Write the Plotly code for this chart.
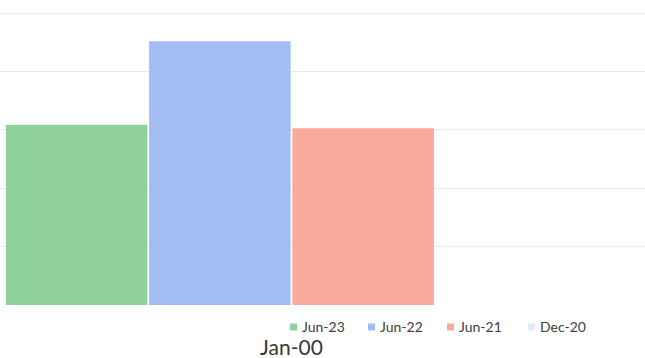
import plotly.graph_objects as go

categories = ["Jan-00"]
series_names = ["Jun-23", "Jun-22", "Jun-21", "Dec-20"]
series_values = [[3.09], [4.52], [3.03], [0.0]]
series_colors = ["#8fd09c", "#a3bcf4", "#f8aa9c", "#e9e6f6"]
grid_values = [1, 2, 3, 4, 5]

W, H = 645, 358
M_TOP, M_BOT = 12, 53
plot_h = H - M_TOP - M_BOT

fig = go.Figure()
for name, vals, col in zip(series_names, series_values, series_colors):
    fig.add_trace(go.Bar(x=categories, y=vals, name=name, showlegend=False,
                         marker=dict(color=col, line=dict(width=0))))

# compact legend row under the bars: small swatch followed by the series name
legend_left_px = [290, 368, 447, 528]
swatch = 7
legend_mid_px = 326


def px_x(p):
    return p / W


def px_y(p):
    return (H - M_BOT - p) / plot_h


for name, col, lx in zip(series_names, series_colors, legend_left_px):
    fig.add_shape(type="rect", xref="paper", yref="paper",
                  x0=px_x(lx), x1=px_x(lx + swatch),
                  y0=px_y(legend_mid_px + swatch / 2 + 1), y1=px_y(legend_mid_px - swatch / 2 + 1),
                  fillcolor=col, line=dict(width=0), layer="above")
    fig.add_annotation(xref="paper", yref="paper", x=px_x(lx + swatch + 4), y=px_y(legend_mid_px),
                       xanchor="left", yanchor="middle", showarrow=False, text=name,
                       height=13, valign="middle", borderpad=0,
                       font=dict(size=14, color="#404040"))

fig.update_layout(
    width=W, height=H,
    margin=dict(l=0, r=0, t=M_TOP, b=M_BOT),
    paper_bgcolor="white", plot_bgcolor="white",
    barmode="group", bargap=0, bargroupgap=0.012,
    font=dict(family="Lato, Open Sans, sans-serif", color="#404040"),
    showlegend=False,
    xaxis=dict(range=[-0.5087, 0.6169], showgrid=False, zeroline=False, showline=False,
               ticks="", ticklabelstandoff=28, tickfont=dict(size=21, color="#383838")),
    yaxis=dict(range=[0, 5.02], tickvals=grid_values, showticklabels=False, showgrid=True,
               gridcolor="#e7e9f0", gridwidth=1, zeroline=False, showline=False),
)

fig.write_html("out.html")
